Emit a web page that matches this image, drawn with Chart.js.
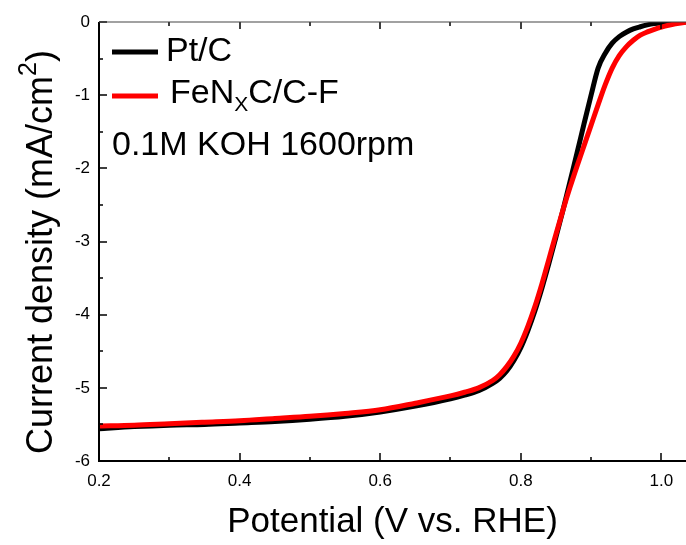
<!DOCTYPE html>
<html>
<head>
<meta charset="utf-8">
<script src="https://cdn.jsdelivr.net/npm/chart.js@4.4.1/dist/chart.umd.min.js"></script>
<style>
  body { margin: 0; background: #fff; }
  canvas { display: block; }
</style>
</head>
<body>
<canvas id="lsv" width="686" height="545"></canvas>
<script>
// potential (V vs. RHE)
const potential = [0.20, 0.25, 0.30, 0.35, 0.40, 0.45, 0.50, 0.55, 0.60, 0.65, 0.70, 0.72, 0.74, 0.76, 0.77,
  0.78, 0.79, 0.80, 0.81, 0.82, 0.83, 0.84, 0.85, 0.86, 0.87, 0.88, 0.89, 0.90, 0.91, 0.92, 0.93,
  0.94, 0.95, 0.96, 0.97, 0.98, 0.99, 1.00, 1.01, 1.02, 1.03, 1.04];
// current density (mA/cm2)
const ptC = [-5.56, -5.53, -5.51, -5.50, -5.48, -5.46, -5.43, -5.39, -5.33, -5.25, -5.15, -5.10, -5.04, -4.94, -4.87,
  -4.77, -4.63, -4.45, -4.22, -3.95, -3.64, -3.30, -2.94, -2.57, -2.18, -1.79, -1.39, -1.00, -0.63, -0.43, -0.29,
  -0.20, -0.14, -0.095, -0.065, -0.04, -0.022, -0.01, -0.003, 0, 0, 0];
const fenxC = [-5.52, -5.51, -5.49, -5.47, -5.45, -5.42, -5.39, -5.35, -5.30, -5.21, -5.11, -5.06, -5.00, -4.90, -4.82,
  -4.71, -4.57, -4.39, -4.16, -3.89, -3.58, -3.24, -2.90, -2.57, -2.26, -1.97, -1.69, -1.41, -1.13, -0.86, -0.63,
  -0.46, -0.34, -0.25, -0.18, -0.135, -0.10, -0.07, -0.045, -0.025, -0.01, 0];

const xTicks = [0.2, 0.4, 0.6, 0.8, 1.0];
const xMinor = [0.3, 0.5, 0.7, 0.9];
const yTicks = [0, -1, -2, -3, -4, -5, -6];
const yMinor = [-0.5, -1.5, -2.5, -3.5, -4.5, -5.5];

const FONT = "'Liberation Sans', Arial, sans-serif";
Chart.defaults.font.family = FONT;
Chart.defaults.color = '#000';

function pts(ys) {
  return potential.map((v, i) => ({x: v, y: ys[i]}));
}

// axes lines and inward ticks
const frame = {
  id: 'frame',
  afterDatasetsDraw(chart) {
    const {ctx, chartArea: a, scales: {x, y}} = chart;
    ctx.save();
    ctx.strokeStyle = '#000';
    ctx.lineWidth = 1.5;
    ctx.beginPath();
    yTicks.forEach(v => { const p = Math.round(y.getPixelForValue(v)); ctx.moveTo(a.left, p); ctx.lineTo(a.left + 8, p); });
    yMinor.forEach(v => { const p = Math.round(y.getPixelForValue(v)); ctx.moveTo(a.left, p); ctx.lineTo(a.left + 4, p); });
    xTicks.forEach(v => {
      const p = Math.round(x.getPixelForValue(v));
      ctx.moveTo(p, a.bottom); ctx.lineTo(p, a.bottom - 8);
      ctx.moveTo(p, a.top); ctx.lineTo(p, a.top + 7);
    });
    xMinor.forEach(v => {
      const p = Math.round(x.getPixelForValue(v));
      ctx.moveTo(p, a.bottom); ctx.lineTo(p, a.bottom - 4);
      ctx.moveTo(p, a.top); ctx.lineTo(p, a.top + 4);
    });
    ctx.stroke();

    ctx.lineWidth = 2;
    ctx.beginPath();
    ctx.moveTo(a.left, a.top);
    ctx.lineTo(a.left, a.bottom + 1);
    ctx.moveTo(a.left - 1, a.bottom);
    ctx.lineTo(a.right, a.bottom);
    ctx.stroke();

    ctx.strokeStyle = '#444';
    ctx.lineWidth = 1.2;
    ctx.beginPath();
    ctx.moveTo(a.left, a.top);
    ctx.lineTo(a.right, a.top);
    ctx.stroke();
    ctx.restore();
  },
  afterDraw(chart) {
    const ctx = chart.ctx;
    ctx.save();
    ctx.fillStyle = '#000';
    ctx.textBaseline = 'alphabetic';

    // legend
    ctx.lineWidth = 5;
    ctx.strokeStyle = '#000';
    ctx.beginPath(); ctx.moveTo(112, 52); ctx.lineTo(158, 52); ctx.stroke();
    ctx.strokeStyle = '#ff0000';
    ctx.beginPath(); ctx.moveTo(112, 96); ctx.lineTo(158, 96); ctx.stroke();

    ctx.font = '34px ' + FONT;
    ctx.fillText('Pt/C', 166, 61);
    let tx = 170;
    ctx.fillText('FeN', tx, 103);
    tx += ctx.measureText('FeN').width;
    ctx.font = '21px ' + FONT;
    ctx.fillText('X', tx, 111);
    tx += ctx.measureText('X').width;
    ctx.font = '34px ' + FONT;
    ctx.fillText('C/C-F', tx, 103);
    ctx.fillText('0.1M KOH 1600rpm', 112, 155);

    // y axis title with superscript
    ctx.translate(52, 252);
    ctx.rotate(-Math.PI / 2);
    const main = 'Current density (mA/cm';
    ctx.font = '36px ' + FONT;
    const w1 = ctx.measureText(main).width;
    const w3 = ctx.measureText(')').width;
    ctx.font = '25px ' + FONT;
    const w2 = ctx.measureText('2').width;
    let sx = -(w1 + w2 + w3) / 2;
    ctx.font = '36px ' + FONT;
    ctx.fillText(main, sx, 0);
    sx += w1;
    ctx.font = '25px ' + FONT;
    ctx.fillText('2', sx, -16);
    sx += w2;
    ctx.font = '36px ' + FONT;
    ctx.fillText(')', sx, 0);
    ctx.restore();
  }
};

new Chart(document.getElementById('lsv').getContext('2d'), {
  type: 'line',
  data: {
    datasets: [
      {label: 'Pt/C', data: pts(ptC), borderColor: '#000000', borderWidth: 5, order: 2},
      {label: 'FeNxC/C-F', data: pts(fenxC), borderColor: '#ff0000', borderWidth: 5, order: 1}
    ]
  },
  options: {
    responsive: false,
    animation: false,
    devicePixelRatio: 1,
    layout: {padding: {top: 22, left: 0, right: 0, bottom: 0}},
    elements: {
      point: {radius: 0},
      line: {cubicInterpolationMode: 'monotone', fill: false}
    },
    plugins: {legend: {display: false}, tooltip: {enabled: false}},
    scales: {
      x: {
        type: 'linear',
        min: 0.2,
        max: 1.035,
        grid: {display: false, drawTicks: false},
        border: {display: false},
        afterBuildTicks: s => { s.ticks = xTicks.map(v => ({value: v})); },
        afterFit: s => { s.height = 84; },
        ticks: {font: {size: 17}, padding: 10, maxRotation: 0, callback: v => v.toFixed(1)},
        title: {display: true, text: 'Potential (V vs. RHE)', font: {size: 35}, padding: {top: 0, bottom: 2}}
      },
      y: {
        min: -6,
        max: 0,
        grid: {display: false, drawTicks: false},
        border: {display: false},
        afterBuildTicks: s => { s.ticks = yTicks.map(v => ({value: v})); },
        afterFit: s => { s.width = 99; },
        ticks: {font: {size: 17}, padding: 9, callback: v => String(v)}
      }
    }
  },
  plugins: [frame]
});
</script>
</body>
</html>
